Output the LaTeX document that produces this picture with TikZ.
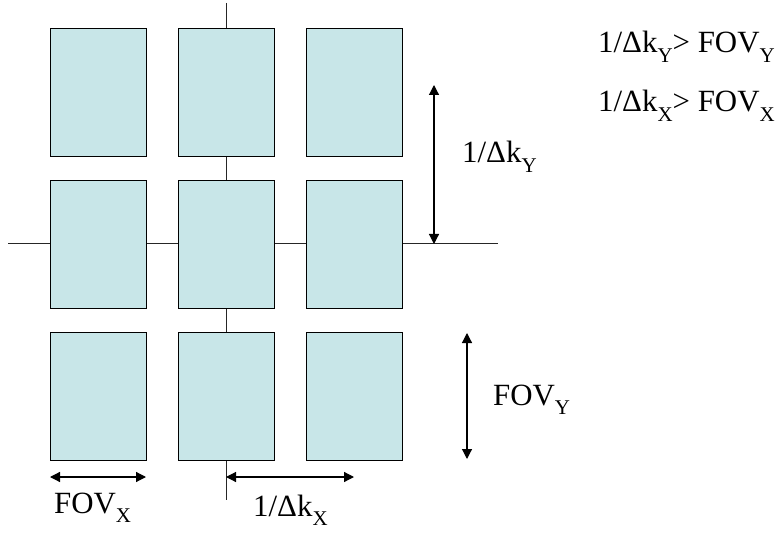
\documentclass[tikz,border=0pt]{standalone}
\usepackage{fontspec}
\setmainfont{Liberation Serif}
\usetikzlibrary{arrows.meta}
\definecolor{cellfill}{RGB}{200,230,232}
\newcommand{\sbs}[1]{\raisebox{-0.3em}{\fontsize{21}{22}\selectfont #1}}
\tikzset{
  cell/.style={draw=black, line width=1.2bp, fill=cellfill, minimum width=96bp, minimum height=128bp, inner sep=0pt, anchor=north west},
  axis/.style={draw=black!85, line width=1bp},
  dim/.style={line width=1.2bp, {Triangle[length=10bp,width=10bp]}-{Triangle[length=10bp,width=10bp]}},
  lbl/.style={font=\fontsize{31}{34}\selectfont, inner sep=0pt, anchor=base west}
}
\begin{document}
\begin{tikzpicture}[x=1bp,y=-1bp]
\useasboundingbox (0,0) rectangle (783,542);
% axes
\coordinate (vt) at (226,3);
\coordinate (vb) at (226,500);
\coordinate (hl) at (8,244);
\coordinate (hr) at (498,244);
\draw[axis] (vt) -- (vb);
\draw[axis] (hl) -- (hr);
% cells
\node[cell] (c11) at (50,28) {};
\node[cell] (c12) at (178,28) {};
\node[cell] (c13) at (306,28) {};
\node[cell] (c21) at (50,180) {};
\node[cell] (c22) at (178,180) {};
\node[cell] (c23) at (306,180) {};
\node[cell] (c31) at (50,332) {};
\node[cell] (c32) at (178,332) {};
\node[cell] (c33) at (306,332) {};
% dimension arrows
\coordinate (dkyT) at (434,85);
\coordinate (dkyB) at (434,244);
\draw[dim] (dkyT) -- (dkyB);
\coordinate (fyT) at (467,333);
\coordinate (fyB) at (467,459);
\draw[dim] (fyT) -- (fyB);
\coordinate (fxL) at (50,477);
\coordinate (fxR) at (146,477);
\draw[dim] (fxL) -- (fxR);
\coordinate (dkxL) at (226,477);
\coordinate (dkxR) at (354,477);
\draw[dim] (dkxL) -- (dkxR);
% labels
\node[lbl] (ldky) at (462,163) {1/Δk\sbs{Y}};
\node[lbl] (lfy) at (493,405) {FOV\sbs{Y}};
\node[lbl] (lfx) at (54,513) {FOV\sbs{X}};
\node[lbl] (ldkx) at (253,516) {1/Δk\sbs{X}};
\node[lbl] (cond1) at (598,53) {1/Δk\sbs{Y}> FOV\sbs{Y}};
\node[lbl] (cond2) at (598,112) {1/Δk\sbs{X}> FOV\sbs{X}};
\end{tikzpicture}
\end{document}
